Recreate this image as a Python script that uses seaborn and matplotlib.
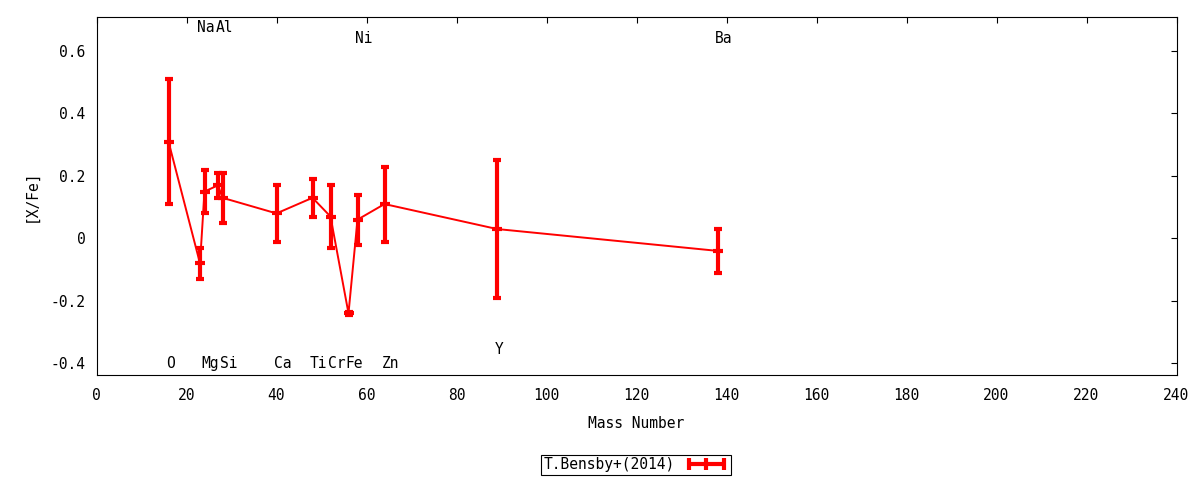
import matplotlib
matplotlib.use("Agg")
import matplotlib.pyplot as plt
from matplotlib.lines import Line2D
import numpy as np
import pandas as pd
import seaborn as sns

# ---- data ----
elements = ['O', 'Na', 'Mg', 'Al', 'Si', 'Ca', 'Ti', 'Cr', 'Fe', 'Ni', 'Zn', 'Y', 'Ba']
mass = [16, 23, 24, 27, 28, 40, 48, 52, 56, 58, 64, 89, 138]
xfe = [0.31, -0.08, 0.15, 0.17, 0.13, 0.08, 0.13, 0.07, -0.24, 0.06, 0.11, 0.03, -0.04]
xfe_err = [0.20, 0.05, 0.07, 0.04, 0.08, 0.09, 0.06, 0.10, 0.005, 0.08, 0.12, 0.22, 0.07]
label_y = [-0.40, 0.675, -0.40, 0.675, -0.40, -0.40, -0.40, -0.40, -0.40, 0.64, -0.40, -0.355, 0.64]
xticks = list(range(0, 241, 20))
yticks = [-0.4, -0.2, 0.0, 0.2, 0.4, 0.6]
ytick_labels = ['-0.4', '-0.2', '0', '0.2', '0.4', '0.6']
series_label = 'T.Bensby+(2014)'
xlabel = 'Mass Number'
ylabel = '[X/Fe]'

df = pd.DataFrame({'mass': mass, 'xfe': xfe, 'err': xfe_err, 'element': elements})

sns.set_theme(style='white')
plt.rcParams['font.family'] = ['DejaVu Sans Mono', 'DejaVu Sans']
plt.rcParams['axes.edgecolor'] = 'black'
plt.rcParams['axes.linewidth'] = 0.8
plt.rcParams['text.color'] = 'black'
plt.rcParams['xtick.color'] = 'black'
plt.rcParams['ytick.color'] = 'black'
plt.rcParams['axes.labelcolor'] = 'black'

fig = plt.figure(figsize=(12, 4.8), dpi=100)
ax = fig.add_axes([96.5 / 1200, 1 - 375 / 480, 1080 / 1200, (375 - 17) / 480])

sns.lineplot(data=df, x='mass', y='xfe', color='red', linewidth=1.4, ax=ax,
             marker='_', markersize=7, markeredgewidth=3, markeredgecolor='red',
             legend=False)
ax.errorbar(df['mass'], df['xfe'], yerr=df['err'], fmt='none', ecolor='red',
            elinewidth=3, capsize=3, capthick=3)

for el, m, ly in zip(elements, mass, label_y):
    ax.text(m - 0.6, ly, el, ha='left', va='center', fontsize=10.5, color='black')

ax.set_xlim(0, 240)
ax.set_ylim(-0.4375, 0.709)
ax.set_xticks(xticks)
ax.set_xticklabels([str(t) for t in xticks])
ax.set_yticks(yticks)
ax.set_yticklabels(ytick_labels)
ax.set_xlabel('')
ax.set_ylabel('')
ax.tick_params(direction='in', length=4, width=0.8, top=True, right=True,
               labelsize=10.5, colors='black', labelcolor='black')
ax.tick_params(axis='x', pad=9)
ax.tick_params(axis='y', pad=8)
for s in ax.spines.values():
    s.set_visible(True)
    s.set_color('black')
ax.grid(False)

fig.text(31 / 1200, 1 - 196 / 480, ylabel, rotation=90, ha='center', va='center',
         fontsize=10.5, color='black')
fig.text(636.5 / 1200, 1 - 424 / 480, xlabel, ha='center', va='center',
         fontsize=10.5, color='black')

handle = Line2D([], [], color='red', lw=3, marker='|', markersize=8, markeredgewidth=3)
leg = fig.legend(handles=[handle], labels=[series_label], numpoints=3, markerfirst=False,
                 loc='center', bbox_to_anchor=(636 / 1200, 1 - 465 / 480), frameon=True,
                 fancybox=False, edgecolor='black', framealpha=1, fontsize=10.5,
                 handlelength=3.0, borderpad=0.2, handletextpad=0.6, borderaxespad=0,
                 labelcolor='black')
leg.get_frame().set_linewidth(0.8)

fig.savefig('out.png', dpi=100)
